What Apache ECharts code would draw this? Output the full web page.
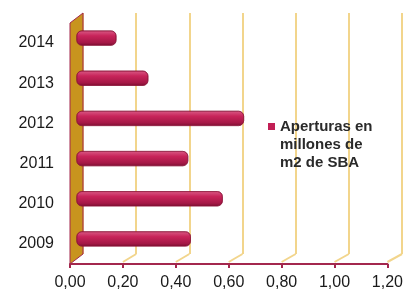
<!DOCTYPE html>
<html><head><meta charset="utf-8">
<script src="https://cdn.jsdelivr.net/npm/echarts@6/dist/echarts.min.js"></script>
<style>html,body{margin:0;padding:0;background:#fff}#c{width:406px;height:293px}</style>
</head><body><div id="c"></div>
<script>
var categories = ['2009','2010','2011','2012','2013','2014'];
var aperturas = [0.43, 0.55, 0.42, 0.63, 0.27, 0.15];
var xTicks = [0, 0.2, 0.4, 0.6, 0.8, 1.0, 1.2];
var seriesName = 'Aperturas en millones de m2 de SBA';
var legendLines = ['Aperturas en', 'millones de', 'm2 de SBA'];

var FRONT = {left:70, right:17, top:23, bottom:29};
var DX = 13, DY = 10;
var MID = {left:FRONT.left+DX/2, right:FRONT.right-DX/2, top:FRONT.top-DY/2, bottom:FRONT.bottom+DY/2};
var BACK = {left:FRONT.left+DX, right:FRONT.right-DX, top:FRONT.top-DY, bottom:FRONT.bottom+DY};
var W = 406, H = 293;

var gold = '#f2d58c';
var wallGold = '#c8941e';
var axisRed = '#a3274d';
var barGrad = new echarts.graphic.LinearGradient(0,0,0,1,[
  {offset:0, color:'#d85a85'},
  {offset:0.35, color:'#c8245a'},
  {offset:0.8, color:'#a51846'},
  {offset:1, color:'#7c0f33'}
]);

var chart = echarts.init(document.getElementById('c'), null, {renderer:'canvas'});
function xAx(idx, show){
  return {type:'value', gridIndex:idx, min:xTicks[0], max:xTicks[xTicks.length-1], interval:0.2,
    axisLine:{show:show, lineStyle:{color:axisRed, width:2}},
    axisTick:{show:show, length:4, lineStyle:{color:axisRed, width:2}},
    axisLabel:{show:show, color:'#1a1a1a', fontSize:16, fontFamily:'Liberation Sans, Arial', margin:11,
      formatter:function(v){return v.toFixed(2).replace('.', ',');}},
    splitLine:{show: idx===2, lineStyle:{color:gold, width:2}}};
}
function yAx(idx, show){
  return {type:'category', gridIndex:idx, data:categories,
    axisLine:{show:false}, axisTick:{show:false},
    axisLabel:{show:show, color:'#1a1a1a', fontSize:16, fontFamily:'Liberation Sans, Arial', margin:16},
    splitLine:{show:false}};
}
chart.setOption({
  animation:false,
  grid:[FRONT, MID, BACK],
  xAxis:[xAx(0,true), xAx(1,false), xAx(2,false)],
  yAxis:[yAx(0,true), yAx(1,false), yAx(2,false)],
  series:[{type:'bar', name:seriesName, xAxisIndex:1, yAxisIndex:1, data:aperturas, barWidth:15,
    itemStyle:{color:barGrad, borderRadius:5, borderColor:'#8a1238', borderWidth:0.6}, z:5}]
});

var g = [];
var yBottomF = H - FRONT.bottom, yTopF = FRONT.top;
var yBottomB = H - BACK.bottom, yTopB = BACK.top;
var x0F = chart.convertToPixel({xAxisIndex:0}, 0);
var x0B = chart.convertToPixel({xAxisIndex:2}, 0);
g.push({type:'polygon', shape:{points:[[x0F,yBottomF],[x0F,yTopF],[x0B,yTopB],[x0B,yBottomB]]},
  style:{fill:wallGold, stroke:axisRed, lineWidth:1}, z:1});
xTicks.forEach(function(v, i){
  if(i===0) return;
  var xf = chart.convertToPixel({xAxisIndex:0}, v);
  var xb = chart.convertToPixel({xAxisIndex:2}, v);
  g.push({type:'line', shape:{x1:xf, y1:yBottomF-2, x2:xb, y2:yBottomB}, style:{stroke:gold, lineWidth:2}, z:1});
});
g.push({type:'rect', shape:{x:268, y:123, width:7, height:7}, style:{fill:'#c21f55'}, z:10});
g.push({type:'text', x:280, y:118, style:{text:legendLines.join('\n'), font:'bold 15px Liberation Sans, Arial',
  fill:'#2a2a2a', lineHeight:18}, z:10});
chart.setOption({graphic:g});
</script></body></html>
